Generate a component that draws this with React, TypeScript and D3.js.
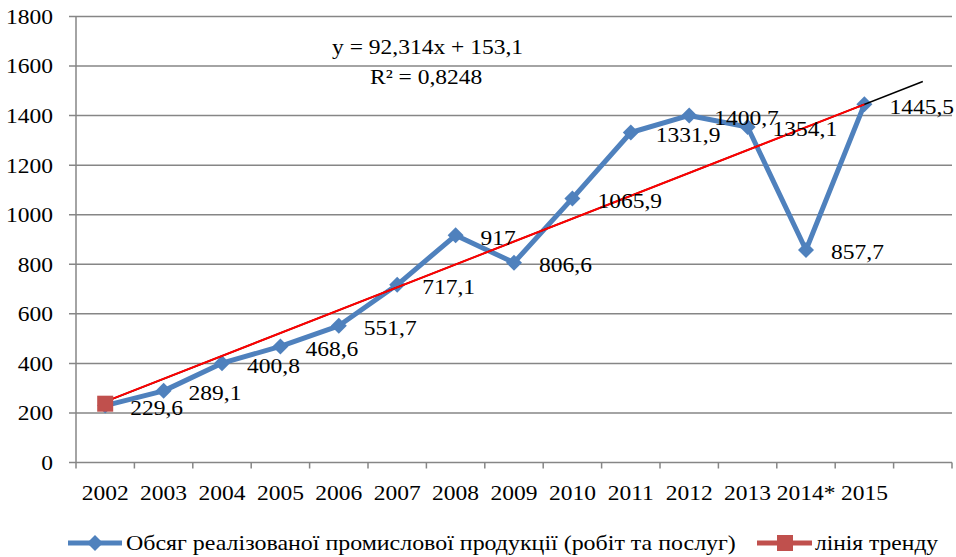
import React from "react";
import * as d3 from "d3";

const years = ["2002", "2003", "2004", "2005", "2006", "2007", "2008", "2009", "2010", "2011", "2012", "2013", "2014*", "2015", ""];
const values = [229.6, 289.1, 400.8, 468.6, 551.7, 717.1, 917, 806.6, 1065.9, 1331.9, 1400.7, 1354.1, 857.7, 1445.5];
const labels = ["229,6", "289,1", "400,8", "468,6", "551,7", "717,1", "917", "806,6", "1065,9", "1331,9", "1400,7", "1354,1", "857,7", "1445,5"];
const yTicks = [0, 200, 400, 600, 800, 1000, 1200, 1400, 1600, 1800];
const trendSlope = 92.314;
const trendIntercept = 153.1;
const seriesName = "Обсяг реалізованої промислової продукції (робіт та послуг)";
const trendName = "лінія тренду";
const eqText = "y = 92,314x + 153,1";
const r2Text = "R² = 0,8248";

const W = 956, H = 557;
const left = 76, right = 952, top = 16.5, bottom = 462.5;
const font = "'Liberation Serif', 'Times New Roman', serif";
const gridColor = "#868686";
const blue = "#4F81BD";

function T({ x, y, anchor = "start", sx = 1.12, children }: { x: number; y: number; anchor?: string; sx?: number; children: React.ReactNode }) {
  return (
    <text transform={`translate(${x},${y}) scale(${sx},1)`} dy="0.35em" textAnchor={anchor} fontFamily={font} fontSize={21} fill="#000">
      {children}
    </text>
  );
}

export default function App() {
  const x = d3.scaleBand<string>().domain(years).range([left, right]).padding(0);
  const y = d3.scaleLinear().domain([0, 1800]).range([bottom, top]);
  const cx = (i: number) => (x(years[i]) as number) + x.bandwidth() / 2;
  const line = d3.line<number>().x((_, i) => cx(i)).y((v) => y(v));
  const trend = (k: number) => trendSlope * k + trendIntercept;
  const diamond = (px: number, py: number, r: number) =>
    `M${px},${py - r}L${px + r},${py}L${px},${py + r}L${px - r},${py}Z`;
  const n = values.length;
  const boundaries = d3.range(years.length + 1).map((i) => left + i * x.bandwidth());

  return (
    <svg width={W} height={H} style={{ position: "absolute", left: 0, top: 0, background: "#fff" }}>
      {yTicks.map((t) => (
        <g key={t}>
          <line x1={left - 7} x2={right} y1={y(t)} y2={y(t)} stroke={gridColor} strokeWidth={1.5} />
          <T x={53} y={y(t)} anchor="end">{t}</T>
        </g>
      ))}
      <line x1={left} x2={left} y1={top} y2={bottom} stroke={gridColor} strokeWidth={1.5} />
      {boundaries.map((b, i) => (
        <line key={i} x1={b} x2={b} y1={bottom} y2={bottom + 6} stroke={gridColor} strokeWidth={1.5} />
      ))}
      {years.map((yr, i) => (
        <T key={i} x={cx(i)} y={493} anchor="middle">{yr}</T>
      ))}
      <path d={line(values) as string} fill="none" stroke={blue} strokeWidth={5} strokeLinejoin="round" />
      {values.map((v, i) => (
        <path key={i} d={diamond(cx(i), y(v), 8)} fill={blue} />
      ))}
      {/* Excel trendline (black), forecast one period forward */}
      <line x1={cx(0)} y1={y(trend(1))} x2={cx(14)} y2={y(trend(15))} stroke="#000" strokeWidth={1.5} />
      {/* trend series (red) */}
      <line x1={cx(0)} y1={y(trend(1))} x2={cx(n - 1)} y2={y(trend(n))} stroke="#FF0000" strokeWidth={2} />
      <rect x={cx(0) - 8} y={y(trend(1)) - 6} width={16} height={16} fill="#C0504D" />
      {values.map((v, i) => (
        <T key={i} x={cx(i) + 25} y={y(v) + 2}>{labels[i]}</T>
      ))}
      <T x={332} y={47}>{eqText}</T>
      <T x={370} y={77}>{r2Text}</T>
      {/* legend */}
      <line x1={68} x2={122} y1={543} y2={543} stroke={blue} strokeWidth={5} />
      <path d={diamond(95, 543, 8)} fill={blue} />
      <T x={126} y={543} sx={1.14}>{seriesName}</T>
      <line x1={757} x2={812} y1={543} y2={543} stroke="#C0504D" strokeWidth={5} />
      <rect x={777} y={535} width={16} height={16} fill="#C0504D" />
      <T x={815} y={543}>{trendName}</T>
    </svg>
  );
}
